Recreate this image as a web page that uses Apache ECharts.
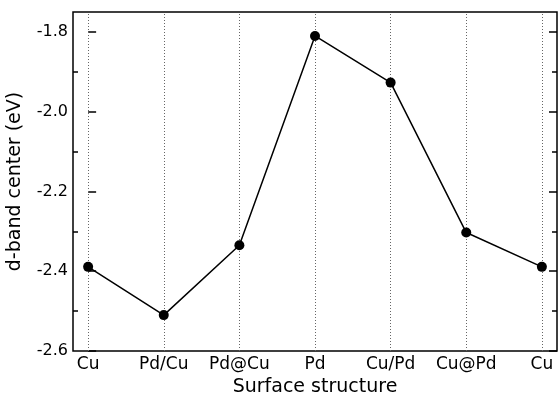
<!DOCTYPE html>
<html>
<head>
<meta charset="utf-8">
<script src="https://cdn.jsdelivr.net/npm/echarts@6/dist/echarts.min.js"></script>
<style>
  html, body { margin: 0; padding: 0; background: #fff; }
  #main { width: 558px; height: 396px; }
</style>
</head>
<body>
<div id="main"></div>
<script>
// estructuras de superficie y centro de banda d (eV)
var estructuras = ["Cu", "Pd/Cu", "Pd@Cu", "Pd", "Cu/Pd", "Cu@Pd", "Cu"];
var centroBandaD = [-2.389, -2.51, -2.335, -1.81, -1.927, -2.303, -2.389];
var ticksMayores = [-2.6, -2.4, -2.2, -2.0, -1.8];
var ticksMenores = [-2.5, -2.3, -2.1, -1.9];

var chart = echarts.init(document.getElementById("main"));
var fuente = "DejaVu Sans";

var puntos = centroBandaD.map(function (v, i) {
  return [i, v];
});
var posiciones = estructuras.map(function (_, i) {
  return i;
});

// eje y reutilizable (izquierda/derecha, mayores/menores)
function ejeY(lado, valores, largo, conEtiquetas) {
  return {
    type: "value",
    position: lado,
    min: -2.6,
    max: -1.75,
    axisLine: { show: false },
    splitLine: { show: false },
    axisTick: {
      show: true,
      inside: true,
      length: largo,
      customValues: valores,
      lineStyle: { color: "#000", width: 1.5 },
    },
    axisLabel: {
      show: conEtiquetas,
      customValues: valores,
      margin: 5,
      color: "#000",
      fontFamily: fuente,
      fontSize: 16,
      formatter: function (v) {
        return v.toFixed(1);
      },
    },
  };
}

var ejeIzq = ejeY("left", ticksMayores, 8, true);
ejeIzq.name = "d-band center (eV)";
ejeIzq.nameLocation = "middle";
ejeIzq.nameGap = 48;
ejeIzq.nameTextStyle = { color: "#000", fontFamily: fuente, fontSize: 19 };

var option = {
  animation: false,
  grid: {
    left: 73,
    right: 1,
    top: 12,
    bottom: 45,
    outerBoundsMode: "none",
    containLabel: false,
    show: true,
    borderColor: "#000",
    borderWidth: 1.5,
  },
  xAxis: {
    type: "value",
    min: -0.2,
    max: 6.2,
    axisLine: { show: false },
    axisTick: { show: false },
    splitLine: { show: false },
    axisLabel: {
      customValues: posiciones,
      margin: 5,
      color: "#000",
      fontFamily: fuente,
      fontSize: 17,
      formatter: function (v) {
        return estructuras[Math.round(v)];
      },
    },
    name: "Surface structure",
    nameLocation: "middle",
    nameGap: 24,
    nameTextStyle: { color: "#000", fontFamily: fuente, fontSize: 19 },
  },
  yAxis: [
    ejeIzq,
    ejeY("left", ticksMenores, 5, false),
    ejeY("right", ticksMayores, 8, false),
    ejeY("right", ticksMenores, 5, false),
  ],
  series: [
    {
      // líneas punteadas verticales, debajo de la curva
      type: "line",
      data: [],
      z: 1,
      markLine: {
        silent: true,
        symbol: "none",
        label: { show: false },
        lineStyle: { color: "#666", type: [1, 2], width: 1 },
        data: posiciones.map(function (p) {
          return { xAxis: p };
        }),
      },
    },
    {
      type: "line",
      data: puntos,
      yAxisIndex: 0,
      symbol: "circle",
      symbolSize: 10,
      itemStyle: { color: "#000", borderWidth: 0 },
      lineStyle: { color: "#000", width: 1.5 },
      z: 5,
    },
  ],
};

chart.setOption(option);
</script>
</body>
</html>
